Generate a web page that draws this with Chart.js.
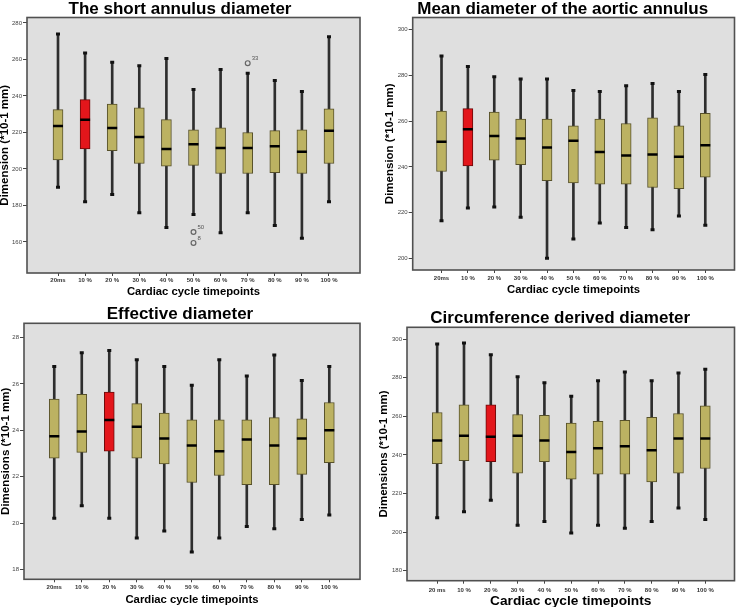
<!DOCTYPE html>
<html>
<head>
<meta charset="utf-8">
<script src="https://cdn.jsdelivr.net/npm/chart.js@4.4.1/dist/chart.umd.min.js"></script>
<style>
  body { margin: 0; background: #fff; overflow: hidden; }
  canvas { position: absolute; }
</style>
</head>
<body>
<canvas id="shortChart" width="371" height="303" style="left:0;top:0"></canvas>
<canvas id="meanChart" width="371" height="303" style="left:371px;top:0"></canvas>
<canvas id="effChart" width="371" height="304" style="left:0;top:303px"></canvas>
<canvas id="circChart" width="371" height="304" style="left:371px;top:303px"></canvas>
<script>
// categories
const timepoints = ['20ms', '10 %', '20 %', '30 %', '40 %', '50 %', '60 %', '70 %', '80 %', '90 %', '100 %'];
const timepointsCirc = ['20 ms', '10 %', '20 %', '30 %', '40 %', '50 %', '60 %', '70 %', '80 %', '90 %', '100 %'];

// short annulus diameter (*10-1 mm)
const shortMin = [190, 182, 186, 176, 168, 175, 165, 176, 169, 162, 182];
const shortQ1  = [205, 211, 210, 203, 201.5, 202, 197.5, 197.5, 198, 197.5, 203];
const shortMed = [223.5, 227, 222.5, 217.5, 211, 213.5, 211.5, 211.5, 212.5, 209.5, 221];
const shortQ3  = [232.5, 238, 235.5, 233.5, 227, 221.5, 222.5, 220, 221, 221.5, 233];
const shortMax = [274, 263.5, 258.5, 256.5, 260.5, 243.5, 254.5, 252.5, 248.5, 242.5, 272.5];
const shortOutCat = [5, 5, 7];
const shortOutVal = [165.5, 159.5, 258];
const shortOutId  = ['50', '8', '33'];
const shortTicks = [160, 180, 200, 220, 240, 260, 280];

// mean diameter of the aortic annulus
const meanMin = [216.5, 222, 222.5, 218, 200, 208.5, 215.5, 213.5, 212.5, 218.5, 214.5];
const meanQ1  = [238, 240.5, 243, 241, 234, 233, 232.5, 232.5, 231, 230.5, 235.5];
const meanMed = [251, 256.5, 253.5, 252.5, 248.5, 251.5, 246.5, 245, 245.5, 244.5, 249.5];
const meanQ3  = [264.5, 265.5, 264, 261, 261, 258, 261, 259, 261.5, 258, 263.5];
const meanMax = [288.5, 284, 279.5, 278.5, 278.5, 273.5, 273, 275.5, 276.5, 273, 280.5];
const meanTicks = [200, 220, 240, 260, 280, 300];

// effective diameter
const effMin = [20.2, 20.75, 20.2, 19.35, 19.65, 18.75, 19.35, 19.85, 19.75, 20.15, 20.35];
const effQ1  = [22.8, 23.05, 23.1, 22.8, 22.55, 21.75, 22.05, 21.65, 21.65, 22.1, 22.6];
const effMed = [23.75, 23.95, 24.45, 24.15, 23.65, 23.35, 23.1, 23.6, 23.35, 23.65, 24.0];
const effQ3  = [25.35, 25.55, 25.65, 25.15, 24.75, 24.45, 24.45, 24.45, 24.55, 24.5, 25.2];
const effMax = [26.75, 27.35, 27.45, 27.05, 26.75, 25.95, 27.05, 26.35, 27.25, 26.15, 26.75];
const effTicks = [18, 20, 22, 24, 26, 28];

// circumference derived diameter
const circMin = [207.5, 210.5, 216.5, 203.5, 205.5, 199.5, 203.5, 202, 205.5, 212.5, 206.5];
const circQ1  = [235.5, 237, 236.5, 230.5, 236.5, 227.5, 230, 230, 226, 230.5, 233];
const circMed = [247.5, 250, 249.5, 250, 247.5, 241.5, 243.5, 244.5, 242.5, 248.5, 248.5];
const circQ3  = [262, 266, 266, 261, 260.5, 256.5, 257.5, 258, 259.5, 261.5, 265.5];
const circMax = [297.5, 298, 292, 280.5, 277.5, 270.5, 278.5, 283, 278.5, 282.5, 284.5];
const circTicks = [180, 200, 220, 240, 260, 280, 300];

Chart.defaults.font.family = '"Liberation Sans", Arial, sans-serif';

// grey plot area with dark frame
const plotFrame = {
    id: 'plotFrame',
    beforeDraw(chart) {
        const {ctx, chartArea: a} = chart;
        ctx.save();
        ctx.fillStyle = '#dfdfdf';
        ctx.fillRect(a.left, a.top, a.right - a.left, a.bottom - a.top);
        ctx.restore();
    },
    afterDraw(chart) {
        const {ctx, chartArea: a} = chart;
        ctx.save();
        ctx.strokeStyle = '#505050';
        ctx.lineWidth = 1.6;
        ctx.strokeRect(a.left, a.top, a.right - a.left, a.bottom - a.top);
        ctx.restore();
    }
};

// case numbers next to outliers
const outlierLabels = {
    id: 'outlierLabels',
    afterDatasetsDraw(chart, args, opts) {
        if (!opts.ids) return;
        const {ctx, scales: {x, y}} = chart;
        ctx.save();
        ctx.font = '6px "Liberation Sans", Arial';
        ctx.fillStyle = '#555';
        opts.ids.forEach((t, k) => {
            ctx.fillText(t, x.getPixelForValue(opts.cats[k]) + 4, y.getPixelForValue(opts.vals[k]) - 3);
        });
        ctx.restore();
    }
};

function boxPlot(id, p) {
    const idx = p.labels.map((_, i) => i);
    const fills = idx.map(i => i === p.highlight ? '#e3161b' : '#bcb262');
    const edges = idx.map(i => i === p.highlight ? '#6b0a0a' : '#57512a');

    const datasets = [
        {   // whisker lines
            type: 'bar',
            data: idx.map(i => ({x: i, y: [p.min[i], p.max[i]]})),
            backgroundColor: '#2e2e2e',
            barThickness: 2,
            grouped: false,
            order: 5
        },
        {   // boxes
            type: 'bar',
            data: idx.map(i => ({x: i, y: [p.q1[i], p.q3[i]]})),
            backgroundColor: fills,
            borderColor: edges,
            borderWidth: 1,
            borderSkipped: false,
            barThickness: 10,
            grouped: false,
            order: 4
        },
        {   // medians
            type: 'line',
            data: idx.map(i => ({x: i, y: p.med[i]})),
            showLine: false,
            pointStyle: 'line',
            pointRadius: 5,
            pointBorderWidth: 2.5,
            pointBorderColor: '#000',
            order: 3
        },
        {   // whisker caps
            type: 'line',
            data: idx.flatMap(i => [{x: i, y: p.min[i]}, {x: i, y: p.max[i]}]),
            showLine: false,
            pointStyle: 'line',
            pointRadius: 2,
            pointBorderWidth: 3,
            pointBorderColor: '#111',
            order: 2
        }
    ];
    if (p.outCat) {
        datasets.push({
            type: 'line',
            data: p.outCat.map((c, k) => ({x: c, y: p.outVal[k]})),
            showLine: false,
            pointStyle: 'circle',
            pointRadius: 2.4,
            pointBorderWidth: 1.2,
            pointBorderColor: '#666',
            pointBackgroundColor: 'rgba(0,0,0,0)',
            order: 1
        });
    }

    return new Chart(document.getElementById(id), {
        type: 'bar',
        data: {datasets: datasets},
        plugins: [plotFrame, outlierLabels],
        options: {
            responsive: false,
            animation: false,
            events: [],
            layout: {padding: {left: p.padL, right: p.padR, top: 0, bottom: 0}},
            plugins: {
                legend: {display: false},
                tooltip: {enabled: false},
                title: {
                    display: true,
                    text: p.title,
                    color: '#000',
                    font: {size: 17, weight: 'bold', lineHeight: 1},
                    padding: {top: p.tPadTop, bottom: p.tPadBot}
                },
                outlierLabels: p.outId ? {ids: p.outId, cats: p.outCat, vals: p.outVal} : {}
            },
            scales: {
                x: {
                    type: 'linear',
                    min: p.xMin,
                    max: p.xMax,
                    offset: false,
                    afterBuildTicks: s => { s.ticks = idx.map(v => ({value: v})); },
                    afterFit: s => { s.height = p.xAxisH; },
                    grid: {drawOnChartArea: false, offset: false, tickLength: 3, color: '#444'},
                    border: {display: false},
                    ticks: {
                        callback: v => p.labels[v],
                        font: {size: 6, weight: 'bold'},
                        color: '#333',
                        padding: p.xTickPad,
                        maxRotation: 0,
                        autoSkip: false
                    },
                    title: {
                        display: true,
                        text: 'Cardiac cycle timepoints',
                        color: '#000',
                        font: {size: p.xTitleSize, weight: 'bold'},
                        padding: {top: 0, bottom: p.xTitlePad}
                    }
                },
                y: {
                    min: p.yMin,
                    max: p.yMax,
                    afterBuildTicks: s => { s.ticks = p.yTicks.map(v => ({value: v})); },
                    afterFit: s => { s.width = p.yAxisW; },
                    grid: {drawOnChartArea: false, tickLength: 4, color: '#444'},
                    border: {display: false},
                    ticks: {font: {size: 6}, color: '#444', padding: 1},
                    title: {
                        display: true,
                        text: p.yTitle,
                        color: '#000',
                        font: {size: 11.5, weight: 'bold'},
                        padding: {top: p.yTitlePad, bottom: 0}
                    }
                }
            }
        }
    });
}

boxPlot('shortChart', {
    title: 'The short annulus diameter', yTitle: 'Dimension (*10-1 mm)',
    labels: timepoints, highlight: 1,
    min: shortMin, q1: shortQ1, med: shortMed, q3: shortQ3, max: shortMax,
    outCat: shortOutCat, outVal: shortOutVal, outId: shortOutId,
    yTicks: shortTicks, yMin: 143, yMax: 283, xMin: -1.144, xMax: 11.144,
    padL: 0, padR: 11, yAxisW: 27, xAxisH: 30,
    tPadTop: 0.5, tPadBot: 0, xTickPad: 1, xTitleSize: 11.3, xTitlePad: 4.5, yTitlePad: -1.9
});

boxPlot('meanChart', {
    title: 'Mean diameter of the aortic annulus', yTitle: 'Dimension (*10-1 mm)',
    labels: timepoints, highlight: 1,
    min: meanMin, q1: meanQ1, med: meanMed, q3: meanQ3, max: meanMax,
    yTicks: meanTicks, yMin: 194.9, yMax: 305.4, xMin: -1.092, xMax: 11.107,
    padL: 14.4, padR: 2, yAxisW: 27.3, xAxisH: 33,
    tPadTop: 0.5, tPadBot: 0, xTickPad: 2, xTitleSize: 11.3, xTitlePad: 6.2, yTitlePad: -2.8
});

boxPlot('effChart', {
    title: 'Effective diameter', yTitle: 'Dimensions (*10-1 mm)',
    labels: timepoints, highlight: 2,
    min: effMin, q1: effQ1, med: effMed, q3: effQ3, max: effMax,
    yTicks: effTicks, yMin: 17.57, yMax: 28.62, xMin: -1.1, xMax: 11.116,
    padL: 0, padR: 11, yAxisW: 24, xAxisH: 27.7,
    tPadTop: 3, tPadBot: 0.3, xTickPad: 1.5, xTitleSize: 11.3, xTitlePad: 0.2, yTitlePad: -1.4
});

boxPlot('circChart', {
    title: 'Circumference derived diameter', yTitle: 'Dimensions (*10-1 mm)',
    labels: timepointsCirc, highlight: 2,
    min: circMin, q1: circQ1, med: circMed, q3: circQ3, max: circMax,
    yTicks: circTicks, yMin: 174.8, yMax: 306.2, xMin: -1.126, xMax: 11.09,
    padL: 9.4, padR: 2, yAxisW: 26.6, xAxisH: 26.3,
    tPadTop: 6.8, tPadBot: 0.5, xTickPad: 3, xTitleSize: 13.7, xTitlePad: -2.9, yTitlePad: -3.6
});
</script>
</body>
</html>
